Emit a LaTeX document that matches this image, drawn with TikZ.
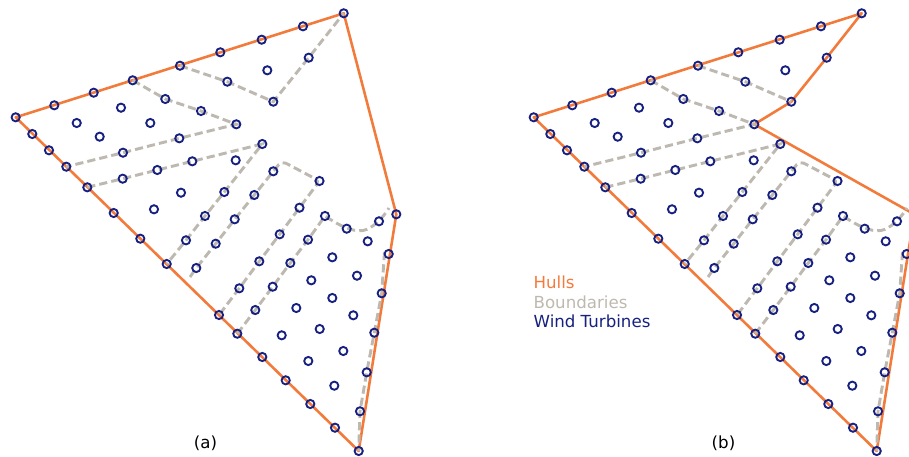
\documentclass[tikz,border=0pt]{standalone}
\usepackage{fontspec}
\setmainfont{DejaVu Sans}
\definecolor{hullcol}{RGB}{242,122,58}
\definecolor{boundcol}{RGB}{190,185,176}
\definecolor{wtcol}{RGB}{22,32,128}

% turbine positions (same in both layouts)
\newcommand{\wtpoints}{(15.7,117.3),(54.3,105.3),(93.7,92.7),(132.7,80.3),(180,65.7),(220.3,52.3),(261.7,39.7),(303,26.3),(343.7,13.3),
(396.3,214.3),(388.7,254),(381.7,293.3),(374.3,332.7),(366.7,372.3),(360,411.3),(358.7,451),
(32.3,134),(49,150.3),(66.3,166.7),(87.3,187.3),(113.7,213),(140.3,238.7),(166.7,264),(219,315),(237.3,333.7),(262.3,357),(285.7,380.3),(310.3,404),(335,427.7),
(165.3,99),(201,111),(227.3,81.7),(267.3,70.3),(308.7,57.7),(273.3,101.7),(236.3,124.3),(121,107.7),(76.7,123),(150.3,123),(99.7,136.7),(179.3,138.3),(123,152.7),
(192.3,161.3),(157.3,170),(122.7,178.7),(262.3,144),(235.7,160.3),(181,192.7),(154,209.3),(224.3,192),(205,216),(186,240.3),
(273.3,171.3),(254.3,195),(234.7,219.3),(215.7,243.7),(196.3,268),(319.5,181),(299.5,207.7),(279.7,234.3),(259.3,261.3),(239.3,288.3),
(325,216),(308,239.7),(290.3,263),(272.7,286.7),(255.3,310),(346.7,228.7),(379,221.3),(367.7,241.3),(332.3,257.3),(357,275.7),(311.3,280.3),
(332.3,298),(296.3,308),(353.3,315.3),(281.7,335.3),(319.7,329),(308.3,361),(343.3,351),(334.3,385.7)}

% boundaries shared by both layouts
\newcommand{\farmbounds}{%
  \draw [bound] (132.7,80.3) -- (165.3,99) -- (201,111) -- (236.3,124.3) -- (179.3,138.3) -- (123,152.7) -- (66.3,166.7);
  \draw [bound] (87.3,187.3) -- (122.7,178.7) -- (157.3,170) -- (192.3,161.3) -- (262.3,144) -- (224.3,192) -- (205,216) -- (186,240.3) -- (166.7,264);
  \draw [bound, rounded corners=4pt] (190,277) -- (196.3,268) -- (215.7,243.7) -- (234.7,219.3) -- (254.3,195) -- (273.3,171.3) -- (281.7,161) -- (319.5,181) -- (299.5,207.7) -- (279.7,234.3) -- (259.3,261.3) -- (239.3,288.3) -- (219,315);
  \draw [bound] (237.3,333.7) -- (255.3,310) -- (272.7,286.7) -- (290.3,263) -- (308,239.7) -- (325,216) .. controls (340,226) and (352,232) .. (363,230.5) .. controls (372,229) and (383,218) .. (389,208);
  \draw [bound] (384.5,252) -- (381.7,293.3) -- (374.3,332.7) -- (366.7,372.3) -- (360,411.3) -- (358.7,451);
}
\newcommand{\farmwt}{\foreach \p in \wtpoints {\draw [wt] \p circle [radius=3.5pt];}}

\begin{document}
\begin{tikzpicture}[x=0.03cm,y=-0.03cm,
    hull/.style={hullcol, line width=2.2pt, line join=round},
    bound/.style={boundcol, line width=2.5pt, dash pattern=on 7pt off 3.5pt},
    wt/.style={wtcol, line width=1.6pt},
    lbl/.style={font=\fontsize{14.2}{17}\selectfont}]
	\useasboundingbox (0,0) rectangle (909,457);
	%Layout (a)
	\draw [hull] (15.7,117.3) -- (343.7,13.3) -- (396.3,214.3) -- (358.7,451) -- cycle;
	\draw [bound] (180,65.7) -- (227.3,81.7) -- (273.3,101.7) -- (308.7,57.7) -- (343.7,13.3);
	\farmbounds
	\farmwt
	\node [lbl] (capa) at (205.5,443.5) {(a)};
	%Layout (b)
	\begin{scope}
		\clip (0,0) rectangle (909,457);
		\begin{scope}[shift={(518,0)}]
			\draw [hull] (15.7,117.3) -- (343.7,13.3) -- (308.7,57.7) -- (273.3,101.7) -- (236.3,124.3) -- (396.3,214.3) -- (358.7,451) -- cycle;
			\draw [bound] (180,65.7) -- (227.3,81.7) -- (273.3,101.7);
			\farmbounds
			\farmwt
			\node [lbl] (capb) at (205.5,443.5) {(b)};
		\end{scope}
	\end{scope}
	%Legend
	\node [lbl, text=hullcol, anchor=base west] (lhull) at (529.5,288.3) {Hulls};
	\node [lbl, text=boundcol, anchor=base west] (lbound) at (529.5,308) {Boundaries};
	\node [lbl, text=wtcol, anchor=base west] (lwt) at (529.5,327.3) {Wind Turbines};
\end{tikzpicture}
\end{document}
